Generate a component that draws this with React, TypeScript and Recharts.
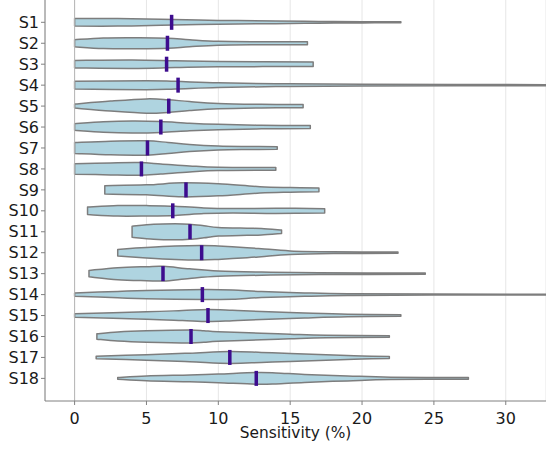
import React from 'react';
import { ComposedChart, XAxis, YAxis, CartesianGrid, ReferenceArea, ReferenceLine, Scatter, Label } from 'recharts';

const categories = ['S1','S2','S3','S4','S5','S6','S7','S8','S9','S10','S11','S12','S13','S14','S15','S16','S17','S18'];
const medians = [6.75, 6.46, 6.4, 7.2, 6.55, 6.0, 5.07, 4.65, 7.75, 6.83, 8.03, 8.84, 6.15, 8.89, 9.28, 8.1, 10.8, 12.64];
const mins = [0, 0, 0, 0, 0, 0, 0, 0, 2.1, 0.9, 4.0, 3.0, 1.0, 0, 0, 1.55, 1.5, 3.0];
const maxs = [22.7, 16.2, 16.6, 40, 15.9, 16.4, 14.1, 14.0, 17.0, 17.4, 14.4, 22.5, 24.4, 38, 22.7, 21.9, 21.9, 27.4];
const xTicks = [0, 5, 10, 15, 20, 25, 30];

// density profiles: [value, relative density]
const densities: number[][][] = [
  [[0, 3.8], [3, 3.8], [6, 3.0], [10, 1.9], [14, 1.4], [17, 0.9], [20, 0.6], [22.7, 0.5]],
  [[0, 3.5], [2, 5.3], [4.5, 5.5], [6.5, 5.0], [8, 3.5], [10, 1.9], [13, 1.5], [16.2, 1.4]],
  [[0, 3.8], [4, 4.2], [7, 3.4], [10, 2.6], [16.6, 2.3]],
  [[0, 3.8], [5, 4.5], [7, 3.8], [10, 2.3], [14, 1.4], [20, 0.9], [33, 0.5], [40, 0.4]],
  [[0, 2.0], [2.5, 5.0], [5, 7.2], [6.5, 6.4], [8, 4.5], [10, 2.7], [13, 1.8], [15.9, 1.6]],
  [[0, 3.3], [2, 5.2], [4, 6.0], [6, 5.5], [8, 3.8], [10, 2.7], [13, 1.8], [16.4, 1.5]],
  [[0, 5.5], [2.5, 6.8], [5, 7.2], [6.5, 5.5], [8, 3.5], [10, 2.0], [12, 1.5], [14.1, 1.3]],
  [[0, 5.2], [2.5, 6.0], [4.5, 6.3], [6, 5.0], [8, 3.0], [10, 1.6], [14, 1.3]],
  [[2.1, 4.2], [5, 5.0], [7.5, 7.0], [10, 6.0], [12.9, 3.2], [15, 2.3], [17, 1.8]],
  [[0.9, 3.8], [3, 5.3], [5, 5.2], [7, 4.6], [9, 2.8], [11, 2.2], [14, 2.6], [17.4, 2.1]],
  [[4, 5.5], [5.5, 7.5], [7, 8.0], [8, 7.5], [9, 6.0], [10, 4.3], [12, 3.5], [13, 3.2], [14.4, 1.8]],
  [[3, 3.3], [5, 5.3], [7, 6.8], [8.8, 7.3], [10, 6.7], [12, 5.0], [13, 4.0], [15, 1.8], [18, 0.9], [22.5, 0.6]],
  [[1, 3.2], [3, 6.0], [5, 7.0], [6.2, 7.3], [8, 4.8], [10, 2.7], [13, 1.6], [17, 0.9], [24.4, 0.6]],
  [[0, 1.6], [3, 3.2], [5, 4.2], [9, 5.0], [11, 4.6], [13, 3.0], [16, 1.7], [19, 0.9], [25, 0.5], [38, 0.4]],
  [[0, 1.8], [5, 3.7], [7.5, 5.0], [9.3, 6.0], [11, 5.2], [13, 4.0], [16, 2.5], [19, 1.3], [22.7, 0.8]],
  [[1.55, 2.7], [3, 4.5], [5, 5.7], [8, 6.5], [9, 5.8], [10, 4.7], [13, 3.3], [15, 2.3], [17.5, 1.2], [21.9, 0.8]],
  [[1.5, 1.3], [5, 2.8], [8, 4.3], [10.8, 6.0], [13, 5.0], [15, 4.0], [18, 2.5], [20, 1.5], [21.9, 1.0]],
  [[3, 0.9], [5, 2.4], [8, 3.4], [10, 4.3], [12.6, 5.8], [14, 5.5], [16, 4.0], [19, 2.5], [22, 1.2], [27.4, 0.8]],
];

const DENSITY_SCALE = 1 / 20.94; // density -> category units
const FONT = '"DejaVu Sans", sans-serif';

const medianData = categories.map((c, i) => ({ name: c, x: medians[i], y: i + 1 }));

function smooth(pts: number[][]): string {
  let d = '';
  for (let i = 0; i < pts.length - 1; i++) {
    const p0 = pts[i - 1] || pts[i];
    const p1 = pts[i];
    const p2 = pts[i + 1];
    const p3 = pts[i + 2] || p2;
    const c1x = p1[0] + (p2[0] - p0[0]) / 6;
    const c1y = p1[1] + (p2[1] - p0[1]) / 6;
    const c2x = p2[0] - (p3[0] - p1[0]) / 6;
    const c2y = p2[1] - (p3[1] - p1[1]) / 6;
    d += ` C${c1x},${c1y} ${c2x},${c2y} ${p2[0]},${p2[1]}`;
  }
  return d;
}

const makeViolin = (idx: number) => (props: any) => {
  const { x, y, width, height } = props;
  const lo = mins[idx];
  const hi = maxs[idx];
  const cy = y + height / 2;
  const px = (v: number) => x + ((v - lo) / (hi - lo)) * width;
  const prof = densities[idx];
  const top = prof.map(([v, d]) => [px(v), cy - d * DENSITY_SCALE * height]);
  const bot = prof.map(([v, d]) => [px(v), cy + d * DENSITY_SCALE * height]).reverse();
  const path =
    `M${top[0][0]},${top[0][1]}` + smooth(top) +
    ` L${bot[0][0]},${bot[0][1]}` + smooth(bot) + ' Z';
  return <path d={path} fill="#afd4e0" stroke="#7d7d7d" strokeWidth={1.5} strokeLinejoin="round" />;
};

const MedianMark = (props: any) => {
  const { cx, cy } = props;
  return <rect x={cx - 1.75} y={cy - 7.5} width={3.5} height={15} fill="#3d0c8e" />;
};

export default function App() {
  return (
    <div style={{ position: 'absolute', left: 0, top: 0, width: 546, height: 450, overflow: 'hidden', background: '#fff' }}>
      <ComposedChart width={546} height={450} margin={{ top: 0, right: 0, bottom: 0, left: 0 }}>
        <CartesianGrid horizontal={false} stroke="#e6e6e6" strokeWidth={1} />
        <XAxis
          type="number"
          dataKey="x"
          domain={[-2.06, 32.8]}
          ticks={xTicks}
          allowDataOverflow
          height={49}
          tickSize={4}
          tickMargin={8}
          stroke="#808080"
          tick={{ fill: '#1a1a1a', fontSize: 16, fontFamily: FONT }}
        >
          <Label value="Sensitivity (%)" position="insideBottom" offset={12} style={{ fill: '#1a1a1a', fontSize: 15.4, fontFamily: FONT }} />
        </XAxis>
        <YAxis
          type="number"
          dataKey="y"
          domain={[-0.065, 19.08]}
          reversed
          ticks={categories.map((_, i) => i + 1)}
          interval={0}
          tickFormatter={(v: number) => categories[v - 1] ?? ''}
          allowDataOverflow
          width={45}
          tickSize={4}
          tickMargin={2}
          stroke="#808080"
          tick={{ fill: '#1a1a1a', fontSize: 16, fontFamily: FONT }}
        />
        <ReferenceLine x={0} stroke="#b5b5b5" strokeWidth={1} ifOverflow="hidden" />
        {categories.map((c, i) => (
          <ReferenceArea
            key={c}
            x1={mins[i]}
            x2={maxs[i]}
            y1={i + 0.5}
            y2={i + 1.5}
            ifOverflow="hidden"
            shape={makeViolin(i)}
          />
        ))}
        <Scatter data={medianData} dataKey="x" shape={MedianMark} isAnimationActive={false} />
      </ComposedChart>
    </div>
  );
}
